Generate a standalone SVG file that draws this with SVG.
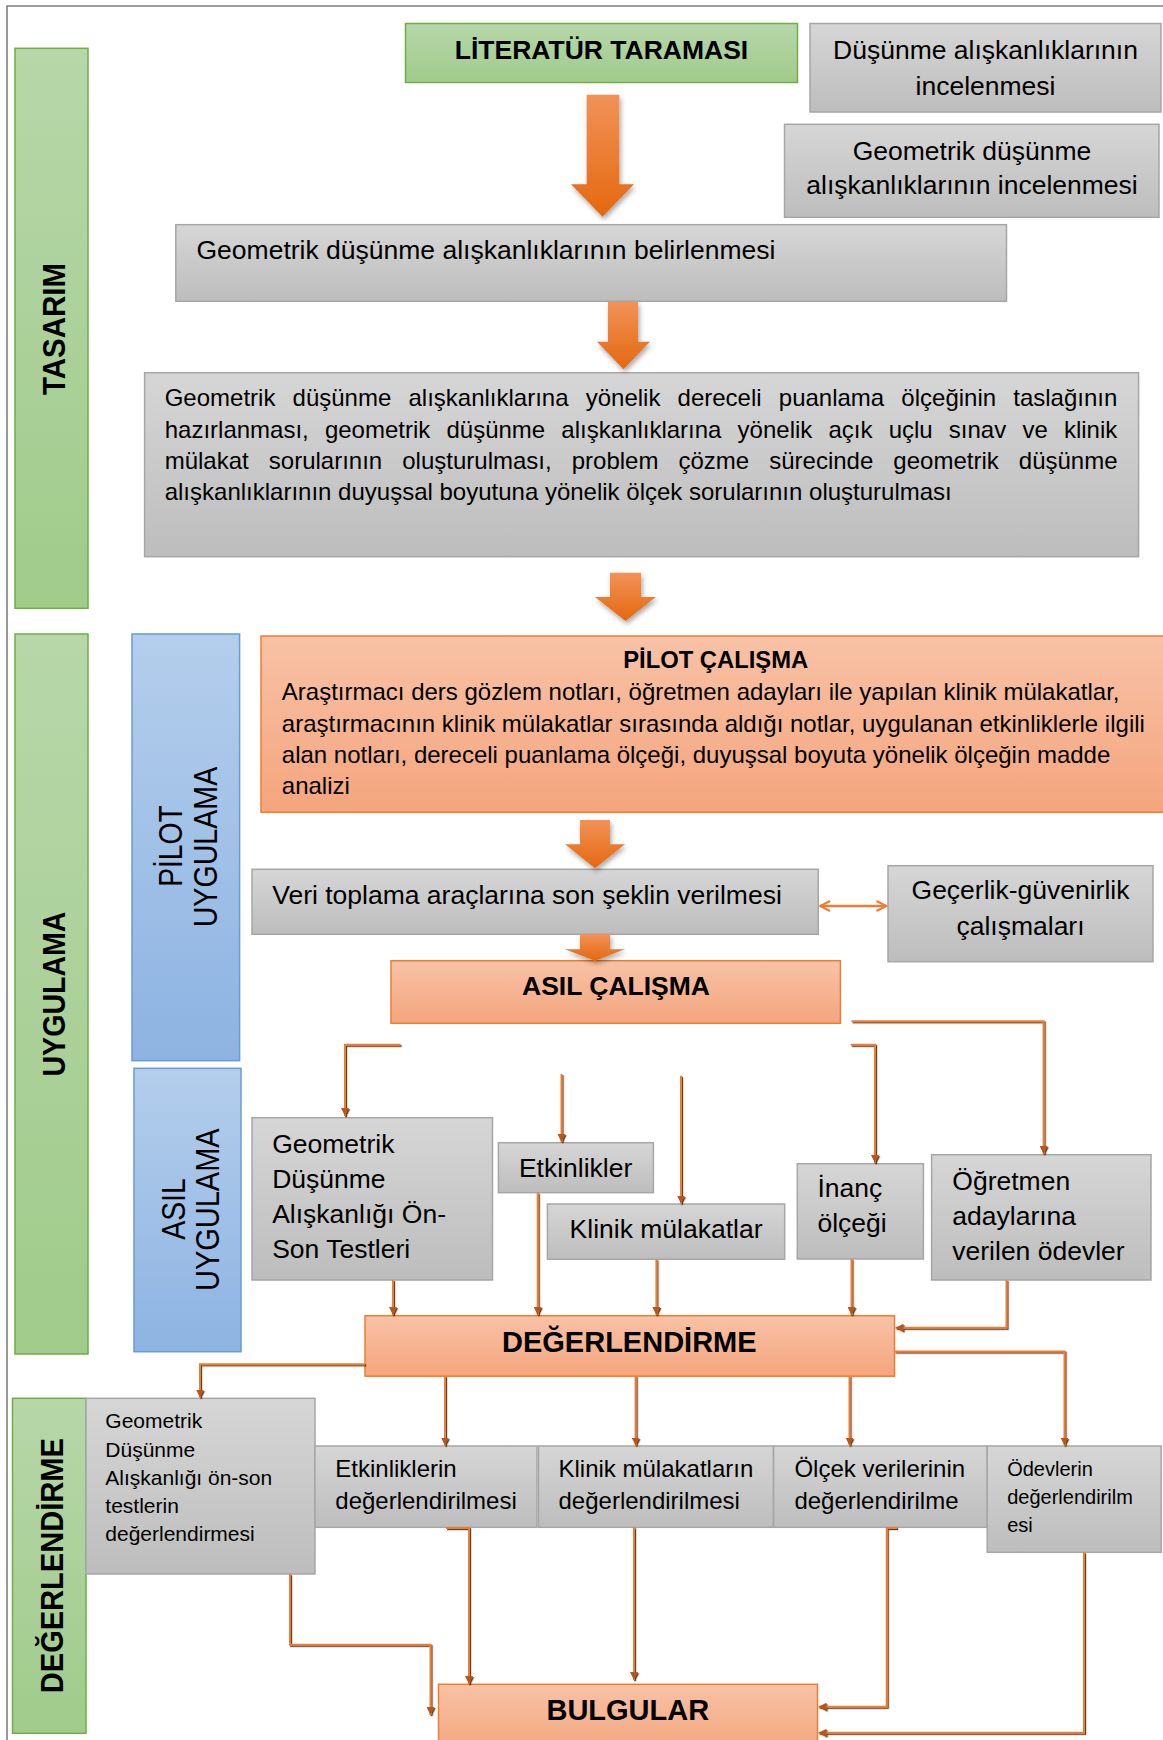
<svg xmlns="http://www.w3.org/2000/svg" width="1163" height="1740" viewBox="0 0 1163 1740">
<defs>
<linearGradient id="gGray" x1="0" y1="0" x2="0" y2="1"><stop offset="0" stop-color="#D6D6D6"/><stop offset="1" stop-color="#BDBDBD"/></linearGradient>
<linearGradient id="gOrange" x1="0" y1="0" x2="0" y2="1"><stop offset="0" stop-color="#F8C2A6"/><stop offset="1" stop-color="#F4A57D"/></linearGradient>
<linearGradient id="gGreen" x1="0" y1="0" x2="0" y2="1"><stop offset="0" stop-color="#B7D7A9"/><stop offset="1" stop-color="#A0CB8B"/></linearGradient>
<linearGradient id="gBlue" x1="0" y1="0" x2="0" y2="1"><stop offset="0" stop-color="#B4CEEC"/><stop offset="1" stop-color="#8DB3E2"/></linearGradient>
<linearGradient id="gArrow" x1="0" y1="0" x2="0" y2="1"><stop offset="0" stop-color="#F29258"/><stop offset="1" stop-color="#E4680F"/></linearGradient>
<filter id="shadow" filterUnits="userSpaceOnUse" x="0" y="0" width="1163" height="1740"><feDropShadow dx="1.5" dy="3" stdDeviation="2.5" flood-color="#000" flood-opacity="0.35"/></filter>
<filter id="lineShadow" filterUnits="userSpaceOnUse" x="0" y="0" width="1163" height="1740"><feDropShadow dx="1.2" dy="1.2" stdDeviation="0.5" flood-color="#4a2206" flood-opacity="0.85"/></filter>
<marker id="ah" viewBox="0 0 10 10" refX="10" refY="5" markerWidth="8" markerHeight="8" markerUnits="userSpaceOnUse" orient="auto"><path d="M0,0 L10,5 L0,10 z" fill="#B8561C"/></marker>
<marker id="chev" viewBox="0 0 12 12" refX="11" refY="6" markerWidth="12" markerHeight="12" markerUnits="userSpaceOnUse" orient="auto-start-reverse"><path d="M1,1 L11,6 L1,11" fill="none" stroke="#ED7D31" stroke-width="2"/></marker>
</defs>
<style>
text{font-family:'Liberation Sans',Arial,Helvetica,sans-serif;fill:#000}
.gray{fill:url(#gGray);stroke:#A6A6A6;stroke-width:1.5}
.orange{fill:url(#gOrange);stroke:#ED7D31;stroke-width:1.5}
.green{fill:url(#gGreen);stroke:#70AD47;stroke-width:1.5}
.blue{fill:url(#gBlue);stroke:#6A9BD6;stroke-width:1.5}
.t26{font-size:26.5px}
.t24{font-size:24px}
.t21{font-size:21px}
.t20{font-size:20px}
.b26{font-size:26.5px;font-weight:bold}
.b24{font-size:23.8px;font-weight:bold}
.b29{font-size:29px;font-weight:bold}
.vb{font-size:32px;font-weight:bold}
.vr{font-size:33px}
.mid{text-anchor:middle}
.conn{fill:none;stroke:#ED7D31;stroke-width:2;marker-end:url(#ah)}
.block{fill:url(#gArrow)}
</style>
<path d="M7,1740 V6 H1163" fill="none" stroke="#7F7F7F" stroke-width="1.6"/>

<g id="bar-tasarim"><rect x="15" y="48.3" width="73" height="560" class="green"/><text transform="translate(65,329) rotate(-90)" class="vb mid" textLength="132" lengthAdjust="spacingAndGlyphs">TASARIM</text></g>
<g id="bar-uygulama"><rect x="15" y="634" width="73" height="720" class="green"/><text transform="translate(65,994) rotate(-90)" class="vb mid" textLength="165" lengthAdjust="spacingAndGlyphs">UYGULAMA</text></g>
<g id="bar-degerlendirme"><rect x="12.5" y="1398.3" width="73.5" height="335" class="green"/><text transform="translate(62.5,1565.7) rotate(-90)" class="vb mid" textLength="255" lengthAdjust="spacingAndGlyphs">DEĞERLENDİRME</text></g>
<g id="bar-pilot"><rect x="132" y="634" width="107.6" height="426.7" class="blue"/><text transform="translate(181.7,846) rotate(-90)" class="vr mid" textLength="81.7" lengthAdjust="spacingAndGlyphs">PİLOT</text><text transform="translate(216.6,847) rotate(-90)" class="vr mid" textLength="160.6" lengthAdjust="spacingAndGlyphs">UYGULAMA</text></g>
<g id="bar-asil"><rect x="134" y="1068.3" width="107" height="283.4" class="blue"/><text transform="translate(185.4,1209) rotate(-90)" class="vr mid" textLength="61.7" lengthAdjust="spacingAndGlyphs">ASIL</text><text transform="translate(218.8,1209.7) rotate(-90)" class="vr mid" textLength="162.7" lengthAdjust="spacingAndGlyphs">UYGULAMA</text></g>

<g id="n-literatur"><rect x="405.5" y="23.5" width="392" height="59" class="green"/><text x="601.5" y="59" class="b26 mid">LİTERATÜR TARAMASI</text></g>
<g id="n-dusunme"><rect x="810" y="23.5" width="351" height="88.5" class="gray"/><text x="985.5" y="59" class="t26 mid">Düşünme alışkanlıklarının</text><text x="985.5" y="95" class="t26 mid">incelenmesi</text></g>
<g id="n-geo-inceleme"><rect x="784.5" y="124.3" width="374.5" height="93" class="gray"/><text x="972" y="160" class="t26 mid">Geometrik düşünme</text><text x="972" y="194" class="t26 mid">alışkanlıklarının incelenmesi</text></g>
<g id="n-belirleme"><rect x="175.8" y="224.7" width="830.7" height="76.6" class="gray"/><text x="196.5" y="259.3" class="t26">Geometrik düşünme alışkanlıklarının belirlenmesi</text></g>
<g id="n-olcek-hazirlama"><rect x="144.6" y="372.7" width="994" height="184" class="gray"/>
<text x="164.7" y="406" class="t24" style="word-spacing:10.5px">Geometrik düşünme alışkanlıklarına yönelik dereceli puanlama ölçeğinin taslağının</text>
<text x="164.7" y="437.5" class="t24" style="word-spacing:9.5px">hazırlanması, geometrik düşünme alışkanlıklarına yönelik açık uçlu sınav ve klinik</text>
<text x="164.7" y="469" class="t24" style="word-spacing:13.4px">mülakat sorularının oluşturulması, problem çözme sürecinde geometrik düşünme</text>
<text x="164.7" y="500" class="t24">alışkanlıklarının duyuşsal boyutuna yönelik ölçek sorularının oluşturulması</text></g>
<g id="n-pilot"><rect x="261" y="636" width="910" height="176.3" class="orange"/>
<text x="715.7" y="668" class="b24 mid">PİLOT ÇALIŞMA</text>
<text x="281.8" y="700" class="t24">Araştırmacı ders gözlem notları, öğretmen adayları ile yapılan klinik mülakatlar,</text>
<text x="281.8" y="731.7" class="t24">araştırmacının klinik mülakatlar sırasında aldığı notlar, uygulanan etkinliklerle ilgili</text>
<text x="281.8" y="763.3" class="t24">alan notları, dereceli puanlama ölçeği, duyuşsal boyuta yönelik ölçeğin madde</text>
<text x="281.8" y="794.3" class="t24">analizi</text></g>
<g id="n-veri"><rect x="252" y="869.3" width="566.3" height="65" class="gray"/><text x="272.2" y="904" class="t26">Veri toplama araçlarına son şeklin verilmesi</text></g>
<g id="n-gecerlik"><rect x="888" y="865.7" width="265" height="96" class="gray"/><text x="1020.5" y="899.3" class="t26 mid">Geçerlik-güvenirlik</text><text x="1020.5" y="935" class="t26 mid">çalışmaları</text></g>
<g id="n-asil"><rect x="391" y="960.7" width="449.4" height="62.6" class="orange"/><text x="616" y="995" class="b26 mid">ASIL ÇALIŞMA</text></g>
<g id="n-geo-test"><rect x="252" y="1117.7" width="240.5" height="162.3" class="gray"/><text x="272.2" y="1153.3" class="t26">Geometrik</text><text x="272.2" y="1188" class="t26">Düşünme</text><text x="272.2" y="1223.3" class="t26">Alışkanlığı Ön-</text><text x="272.2" y="1258.3" class="t26">Son Testleri</text></g>
<g id="n-etkinlikler"><rect x="498.4" y="1142.7" width="155" height="50" class="gray"/><text x="575.6" y="1176.7" class="t26 mid">Etkinlikler</text></g>
<g id="n-klinik"><rect x="547.4" y="1204" width="237.3" height="55.3" class="gray"/><text x="569.6" y="1238.3" class="t26">Klinik mülakatlar</text></g>
<g id="n-inanc"><rect x="797.3" y="1163.7" width="126.1" height="95.3" class="gray"/><text x="817.4" y="1196.7" class="t26">İnanç</text><text x="817.4" y="1231.7" class="t26">ölçeği</text></g>
<g id="n-ogretmen"><rect x="931.6" y="1154.7" width="219.4" height="125.3" class="gray"/><text x="952.3" y="1190" class="t26">Öğretmen</text><text x="952.3" y="1225" class="t26">adaylarına</text><text x="952.3" y="1260" class="t26">verilen ödevler</text></g>
<g id="n-degerlendirme"><rect x="365" y="1315.7" width="529.5" height="60.5" class="orange"/><text x="629.3" y="1351.7" class="b29 mid">DEĞERLENDİRME</text></g>
<g id="n-geo-deg"><rect x="86" y="1398.3" width="229" height="175.7" class="gray"/><text x="105.3" y="1428.3" class="t21">Geometrik</text><text x="105.3" y="1456.7" class="t21">Düşünme</text><text x="105.3" y="1485" class="t21">Alışkanlığı ön-son</text><text x="105.3" y="1513.3" class="t21">testlerin</text><text x="105.3" y="1540.7" class="t21">değerlendirmesi</text></g>
<g id="n-etk-deg"><rect x="315" y="1446" width="222" height="81.3" class="gray"/><text x="335.3" y="1477.3" class="t24">Etkinliklerin</text><text x="335.3" y="1509.3" class="t24">değerlendirilmesi</text></g>
<g id="n-klinik-deg"><rect x="538.5" y="1446" width="235" height="81.3" class="gray"/><text x="558.5" y="1477.3" class="t24">Klinik mülakatların</text><text x="558.5" y="1509.3" class="t24">değerlendirilmesi</text></g>
<g id="n-olcek-deg"><rect x="773.6" y="1446" width="213.6" height="81.3" class="gray"/><text x="794.4" y="1477.3" class="t24">Ölçek verilerinin</text><text x="794.4" y="1509.3" class="t24">değerlendirilme</text></g>
<g id="n-odev-deg"><rect x="987.2" y="1446" width="174" height="106.3" class="gray"/><text x="1007.2" y="1476" class="t20">Ödevlerin</text><text x="1007.2" y="1504.3" class="t20">değerlendirilm</text><text x="1007.2" y="1531.7" class="t20">esi</text></g>
<g id="n-bulgular"><rect x="438.5" y="1684.3" width="379" height="70" class="orange"/><text x="627.8" y="1720" class="b29 mid">BULGULAR</text></g>

<g id="connectors">
<g filter="url(#shadow)">
<polygon class="block" points="586.7,94.7 619.3,94.7 619.3,184.3 634,184.3 602.5,216.7 571,184.3 586.7,184.3"/>
<polygon class="block" points="608,301.7 638,301.7 638,341.7 650,341.7 623.5,369.3 597,341.7 608,341.7"/>
<polygon class="block" points="610,572.7 641,572.7 641,597 656,597 625.5,621 595,597 610,597"/>
<polygon class="block" points="580,820 610,820 610,844.3 625,844.3 595,868.3 565,844.3 580,844.3"/>
<polygon class="block" points="580,934 610,934 610,949.3 625,949.3 595,960.7 565,949.3 580,949.3"/>
</g>
<path d="M820,906 H886.5" fill="none" stroke="#ED7D31" stroke-width="2.5" marker-start="url(#chev)" marker-end="url(#chev)"/>
<g filter="url(#lineShadow)">
<path class="conn" d="M400.5,1044.7 H345 V1116"/>
<path class="conn" d="M561.5,1074 V1142"/>
<path class="conn" d="M681,1075.7 V1203.5"/>
<path class="conn" d="M850.7,1044.7 H875 V1163"/>
<path class="conn" d="M851.5,1021.3 H1043.6 V1154"/>
<path class="conn" d="M393,1280 V1315"/>
<path class="conn" d="M537.7,1192.7 V1315"/>
<path class="conn" d="M656.4,1259.3 V1315"/>
<path class="conn" d="M851.5,1259 V1315"/>
<path class="conn" d="M1006.5,1280 V1327.7 H895.5"/>
<path class="conn" d="M365,1364.3 H200 V1397.5"/>
<path class="conn" d="M894.5,1351.5 H1064.5 V1445.5"/>
<path class="conn" d="M445,1376 V1445.5"/>
<path class="conn" d="M635.6,1376 V1445.5"/>
<path class="conn" d="M849.5,1376 V1445.5"/>
<path class="conn" d="M290,1574 V1644.7 H430.5 V1715"/>
<path class="conn" d="M446,1528 H469 V1684"/>
<path class="conn" d="M634,1527.3 V1680"/>
<path class="conn" d="M897,1528 H886.7 V1706.7 H818.5"/>
<path class="conn" d="M1084,1552.3 V1732.7 H818.5"/>
</g>
</g>
</svg>
